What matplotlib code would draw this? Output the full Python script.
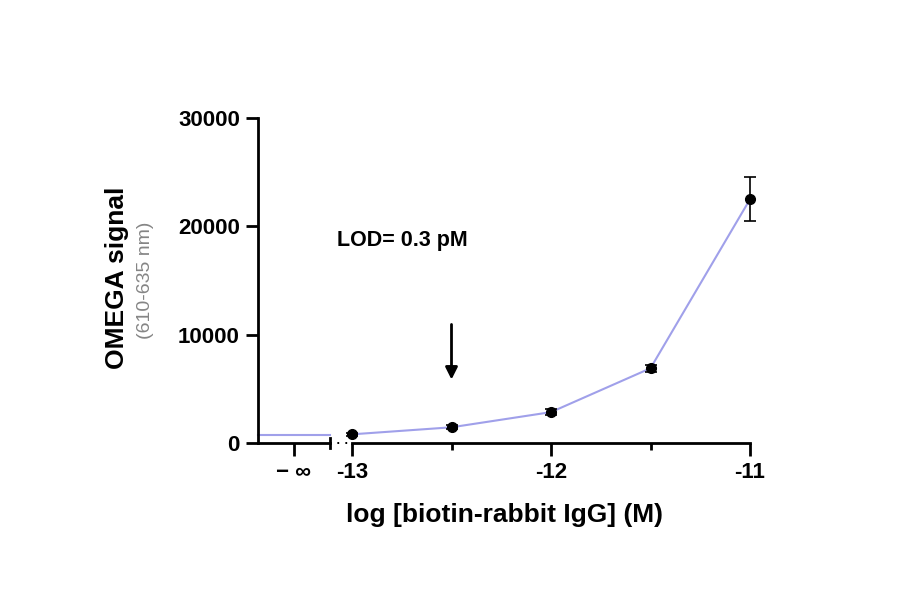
import numpy as np
import matplotlib.pyplot as plt
from matplotlib.ticker import FixedLocator

plt.rcParams['font.family'] = ['Liberation Sans', 'DejaVu Sans']

# data
log_conc = [-13.0, -12.5, -12.0, -11.5, -11.0]
signal = [800, 1450, 2850, 6900, 22500]
signal_err = [150, 200, 250, 300, 2050]
blank_signal = 750
lod_x = -12.5
lod_text = 'LOD= 0.3 pM'

x_ticks = [-13, -12, -11]
x_minor = [-12.5, -11.5]
y_ticks = [0, 10000, 20000, 30000]

line_col = '#a0a0ea'
tick_fs = 16

fig = plt.figure(figsize=(9, 5.94), dpi=100)
W, H = 900, 594

def frac(x0, x1, ytop, ybot):
    return [x0 / W, 1 - ybot / H, (x1 - x0) / W, (ybot - ytop) / H]

ax0 = fig.add_axes(frac(258, 330, 118, 443))
ax1 = fig.add_axes(frac(352, 750, 118, 443))

for ax in (ax0, ax1):
    ax.set_ylim(0, 30000)
    for s in ('top', 'right'):
        ax.spines[s].set_visible(False)
    for s in ('left', 'bottom'):
        ax.spines[s].set_linewidth(2)
    ax.tick_params(width=2, length=9, labelsize=tick_fs)

# left segment (blank)
ax0.set_xlim(0, 2)
ax0.plot([0, 2], [blank_signal, blank_signal], color=line_col, lw=1.5, clip_on=False)
ax0.set_xticks([1])
ax0.set_xticklabels(['\u2212 \u221e'], fontweight='bold', fontsize=tick_fs)
ax0.set_yticks(y_ticks)
ax0.set_yticklabels([str(v) for v in y_ticks], fontweight='bold', fontsize=tick_fs)
ax0.plot([2, 2], [-500, 500], color='black', lw=2, clip_on=False)
ax0.tick_params(axis='y', pad=4)
ax0.tick_params(axis='x', pad=5)

# break dots
fig.text(338 / W, 1 - 443 / H, '\u00b7', ha='center', va='center', fontsize=14)
fig.text(346 / W, 1 - 443 / H, '\u00b7', ha='center', va='center', fontsize=14)

# main segment
ax1.set_xlim(-13, -11)
ax1.spines['left'].set_visible(False)
ax1.set_yticks([])
ax1.set_xticks(x_ticks)
ax1.set_xticklabels([str(v) for v in x_ticks], fontweight='bold', fontsize=tick_fs)
ax1.xaxis.set_minor_locator(FixedLocator(x_minor))
ax1.tick_params(axis='x', which='minor', width=2, length=5)
ax1.tick_params(axis='x', which='major', pad=5)
ax1.plot(log_conc, signal, color=line_col, lw=1.5, clip_on=False, zorder=2)
ax1.errorbar(log_conc, signal, yerr=signal_err, fmt='o', color='black', ms=7,
             capsize=4, elinewidth=1.2, capthick=1.2, clip_on=False, zorder=3)

ax1.annotate('', xy=(lod_x, 5600), xytext=(lod_x, 11200),
             arrowprops=dict(arrowstyle='-|>', color='black', lw=2,
                             mutation_scale=18))
ax1.text(-13.075, 18700, lod_text, fontsize=15.5, fontweight='bold', ha='left', va='center')

fig.text(505 / W, 1 - 515 / H, 'log [biotin-rabbit IgG] (M)', ha='center', va='center',
         fontsize=19, fontweight='bold')
fig.text(117 / W, 1 - 278 / H, 'OMEGA signal', rotation=90, ha='center', va='center',
         fontsize=19, fontweight='bold')
fig.text(146 / W, 1 - 280 / H, '(610-635 nm)', rotation=90, ha='center', va='center',
         fontsize=14, color='#858585')

fig.savefig('out.png', dpi=100)
